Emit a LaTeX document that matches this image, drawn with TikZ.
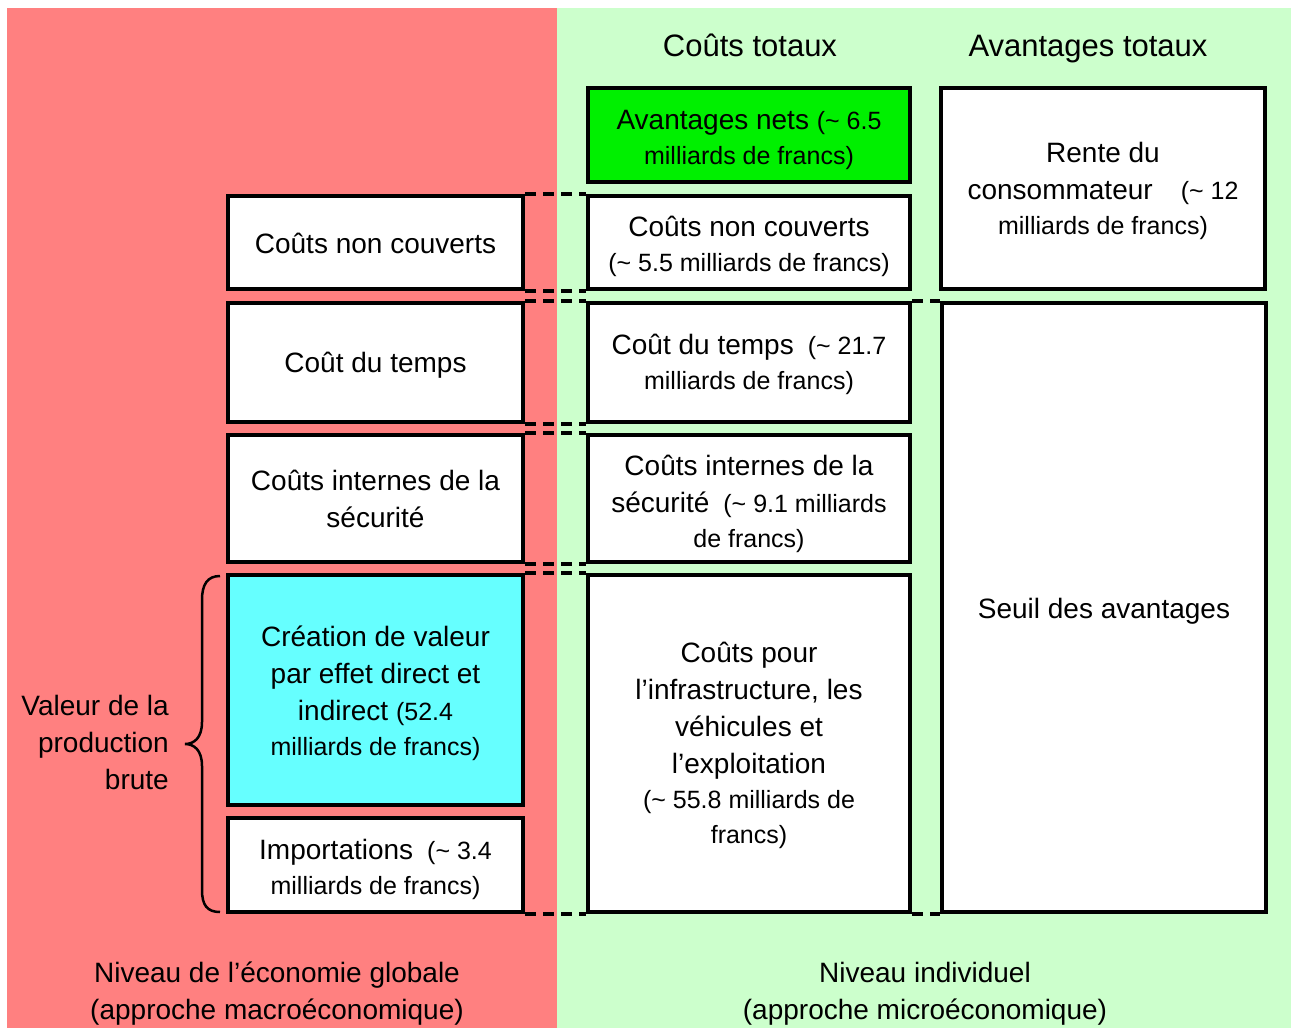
\documentclass[tikz,border=0pt]{standalone}
\usepackage{fontspec}
\setmainfont{Liberation Sans}
\definecolor{bgred}{RGB}{255,128,128}
\definecolor{bggreen}{RGB}{204,255,204}
\definecolor{boxcyan}{RGB}{102,255,255}
\definecolor{boxgreen}{RGB}{0,240,0}
\newcommand{\sm}[1]{{\fontsize{25}{35}\selectfont #1}}
\newcommand{\tl}{\textasciitilde}
\begin{document}
\begin{tikzpicture}[x=1pt,y=-1pt,
  bx/.style={draw=black, line width=4pt, fill=white, inner sep=0pt},
  tx/.style={inner sep=0pt, align=center, font=\fontsize{28}{37}\selectfont},
  dashline/.style={draw=black, line width=4pt, dash pattern=on 11pt off 7pt},
  lbl/.style={font=\fontsize{28}{37}\selectfont, align=center, inner sep=0pt},
  hdr/.style={font=\fontsize{31}{37}\selectfont, inner sep=0pt, anchor=base},
  bracestyle/.style={draw=black, line width=2.5pt}]
\useasboundingbox (0,0) rectangle (1291,1028);
\fill[bgred] (7,8) rectangle (557,1028);
\fill[bggreen] (557,8) rectangle (1291,1028);

% headers
\node[hdr] (h1) at (750,56) {Coûts totaux};
\node[hdr] (h2) at (1088,56) {Avantages totaux};

% left column
\node[bx, minimum width=295pt, minimum height=93pt] (L1) at (375.5,242.5) {};
\node[bx, minimum width=295pt, minimum height=119pt] (L2) at (375.5,362.5) {};
\node[bx, minimum width=295pt, minimum height=127pt] (L3) at (375.5,498.5) {};
\node[bx, fill=boxcyan, minimum width=295pt, minimum height=230pt] (L4) at (375.5,690) {};
\node[bx, minimum width=295pt, minimum height=94pt] (L5) at (375.5,865) {};

\node[tx] (L1t) at ([yshift=-1pt]L1.center) {Coûts non couverts};
\node[tx] (L2t) at ([yshift=-3pt]L2.center) {Coût du temps};
\node[tx] (L3t) at (L3.center) {Coûts internes de la\\sécurité};
\node[tx] (L4t) at ([yshift=-3pt]L4.center) {Création de valeur\\par effet direct et\\indirect \sm{(52.4}\\[-2pt]\sm{milliards de francs)}};
\node[tx] (L5t) at ([yshift=-4pt]L5.center) {Importations\enspace\sm{(\tl\ 3.4}\\[-2pt]\sm{milliards de francs)}};

% middle column
\node[bx, fill=boxgreen, minimum width=322pt, minimum height=94pt] (M1) at (749,135) {};
\node[bx, minimum width=322pt, minimum height=93pt] (M2) at (749,242.5) {};
\node[bx, minimum width=322pt, minimum height=119pt] (M3) at (749,362.5) {};
\node[bx, minimum width=322pt, minimum height=127pt] (M4) at (749,498.5) {};
\node[bx, minimum width=322pt, minimum height=337pt] (M5) at (749,743.5) {};

\node[tx] (M1t) at ([yshift=-5pt]M1.center) {Avantages nets \sm{(\tl\ 6.5}\\[-2pt]\sm{milliards de francs)}};
\node[tx] (M2t) at ([yshift=-4pt]M2.center) {Coûts non couverts\\[-2pt]\sm{(\tl\ 5.5 milliards de francs)}};
\node[tx] (M3t) at ([yshift=-2pt]M3.center) {Coût du temps\enspace\sm{(\tl\ 21.7}\\[-2pt]\sm{milliards de francs)}};
\node[tx] (M4t) at ([yshift=-5pt]M4.center) {Coûts internes de la\\sécurité\enspace\sm{(\tl\ 9.1 milliards}\\[-2pt]\sm{de francs)}};
\node[tx] (M5t) at ([yshift=-2pt]M5.center) {Coûts pour\\l’infrastructure, les\\véhicules et\\l’exploitation\\[-2pt]\sm{(\tl\ 55.8 milliards de}\\[-2pt]\sm{francs)}};

% right column
\node[bx, minimum width=324pt, minimum height=201pt] (R1) at (1103,188.5) {};
\node[bx, minimum width=324pt, minimum height=609pt] (R2) at (1104,607.5) {};

\node[tx] (R1t) at ([yshift=-2pt]R1.center) {Rente du\\consommateur\quad\sm{(\tl\ 12}\\[-2pt]\sm{milliards de francs)}};
\node[tx] (R2t) at ([yshift=-4pt]R2.center) {Seuil des avantages};

% dashed connectors
\draw[dashline] (L1.north east) -- (M2.north west);
\draw[dashline] (L1.south east) -- (M2.south west);
\draw[dashline] (L2.north east) -- (M3.north west);
\draw[dashline] (L2.south east) -- (M3.south west);
\draw[dashline] (L3.north east) -- (M4.north west);
\draw[dashline] (L3.south east) -- (M4.south west);
\draw[dashline] (L4.north east) -- (M5.north west);
\draw[dashline] (L5.south east) -- (M5.south west);
\draw[dashline] (M3.north east) -- (R2.north west);
\draw[dashline] (M5.south east) -- (R2.south west);

% brace
\draw[bracestyle] (220,576) .. controls (207,576) and (202,585) .. (202,600) -- (202,722)
  .. controls (202,738) and (194,744) .. (185,744)
  .. controls (194,744) and (202,750) .. (202,766) -- (202,890)
  .. controls (202,905) and (207,912) .. (220,912);

% labels
\node[lbl, align=right, anchor=east] (vl) at (169,742) {Valeur de la\\production\\brute};
\node[lbl] (b1) at (277,994) {Niveau de l’économie globale\\(approche macroéconomique)};
\node[lbl] (b2) at (925,994) {Niveau individuel\\(approche microéconomique)};
\end{tikzpicture}
\end{document}
